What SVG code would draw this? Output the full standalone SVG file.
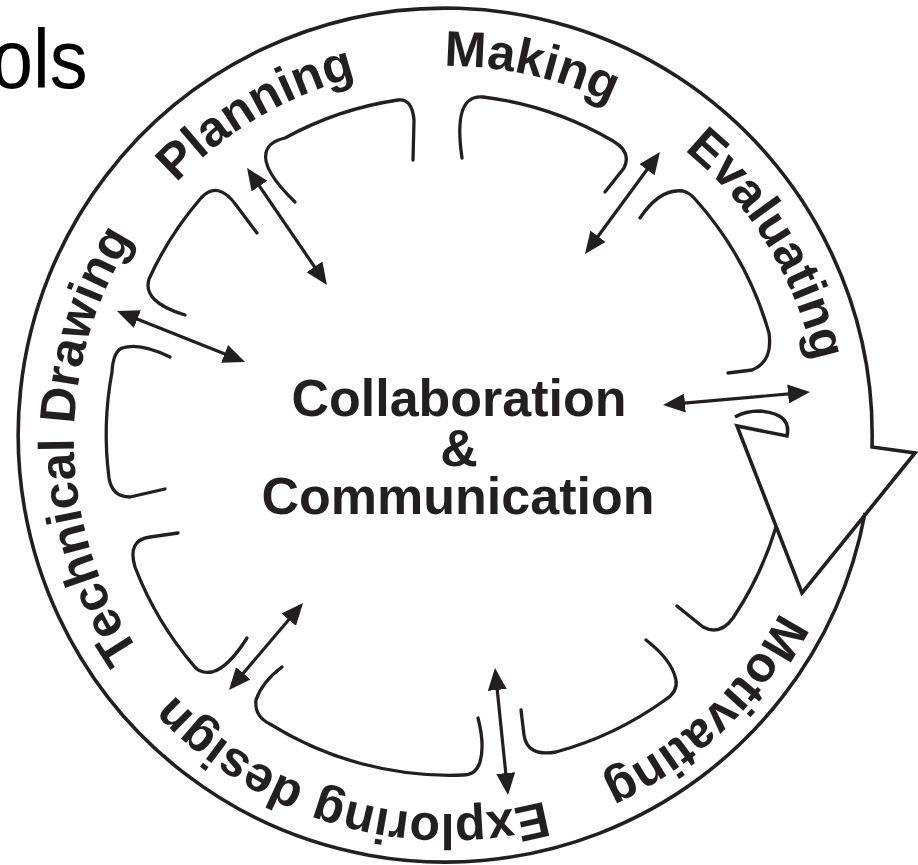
<svg xmlns="http://www.w3.org/2000/svg" xmlns:xlink="http://www.w3.org/1999/xlink" width="918" height="865" viewBox="0 0 918 865">
<style>
.ln{fill:none;stroke:#231f20;stroke-width:3.3;stroke-linecap:round;stroke-linejoin:round}
.ol{fill:#fff;stroke:#231f20;stroke-width:3.6;stroke-linejoin:miter}
.ar{fill:none;stroke:#231f20;stroke-width:3.2;marker-start:url(#ah);marker-end:url(#ah)}
.lbl{font-family:"Liberation Sans",Arial,sans-serif;font-weight:bold;font-size:50px;fill:#231f20}
.ctr{font-family:"Liberation Sans",Arial,sans-serif;font-weight:bold;font-size:52px;fill:#231f20;text-anchor:middle}
</style>
<defs>
<marker id="ah" markerWidth="22" markerHeight="19" refX="18" refY="9.5" orient="auto-start-reverse" markerUnits="userSpaceOnUse">
<path d="M0,0 L22,9.5 L0,19 z" fill="#231f20"/>
</marker>
<path id="ring" d="M822,440 A374,374 0 1 1 74,440 A374,374 0 1 1 822,440"/>
</defs>
<rect width="918" height="865" fill="#fff"/>
<text x="-10" y="88" transform="scale(0.9,1)" font-family="'Liberation Sans',Arial,sans-serif" font-size="84" fill="#000">ols</text>
<g id="cycle">
<path class="ol" d="M865,513 A427,427 0 1 1 872,447 L915,453 L802,593 L737,426 L787,436 C790,422 783,413 760,411 Q745,411 735,417"/>
</g>
<g id="planning">
<path class="ln" d="M185,315 Q142,302 149,279 A338,338 0 0 1 201,198 Q218,180 236,205 L257,233"/>
<text class="lbl"><textPath xlink:href="#ring" href="#ring" startOffset="1563.3" text-anchor="middle">Planning</textPath></text>
</g>
<g id="making">
<path class="ln" d="M295,202 Q262,170 266,153 Q268,142 285,138 A338,338 0 0 1 398,100 Q412,98 414,120 L413,160"/>
<text class="lbl"><textPath xlink:href="#ring" href="#ring" startOffset="1844" text-anchor="middle">Making</textPath></text>
</g>
<g id="evaluating">
<path class="ln" d="M462,158 Q455,110 470,100 Q475,96 483,97 A340,340 0 0 1 613,141 Q632,152 624,168 L605,192"/>
<path class="ln" d="M640,218 Q660,188 683,191 Q690,193 695,199 A340,340 0 0 1 769,333 Q773,362 752,370 L728,373"/>
<text class="lbl"><textPath xlink:href="#ring" href="#ring" startOffset="2143.6" text-anchor="middle">Evaluating</textPath></text>
</g>
<g id="motivating">
<path class="ln" d="M776,527 A340,340 0 0 1 733,618 Q720,636 703,627 L677,606"/>
<path class="ln" d="M646,640 Q672,660 676,680 Q678,692 665,700 A338,338 0 0 1 556,752 Q527,757 524,735 L521,710"/>
<text class="lbl"><textPath xlink:href="#ring" href="#ring" startOffset="303.5" text-anchor="middle">Motivating</textPath></text>
</g>
<g id="exploring">
<path class="ln" d="M478,718 Q485,745 480,762 Q476,775 463,775 A339,339 0 0 1 270,724 Q254,716 256,700 Q262,682 282,667"/>
<text class="lbl"><textPath xlink:href="#ring" href="#ring" startOffset="691.9" text-anchor="middle">Exploring design</textPath></text>
</g>
<g id="technical">
<path class="ln" d="M247,638 Q228,668 212,672 Q200,674 194,666 A339,339 0 0 1 135,567 Q127,540 150,537 L178,533"/>
<path class="ln" d="M170,357 Q140,342 122,348 Q113,352 112,372 A340,340 0 0 0 109,478 Q112,497 130,497 L165,489"/>
<text class="lbl"><textPath xlink:href="#ring" href="#ring" startOffset="1168.4" text-anchor="middle">Technical Drawing</textPath></text>
</g>
<g id="center">
<text class="ctr" x="459" y="416">Collaboration</text>
<text class="ctr" x="459" y="466">&amp;</text>
<text class="ctr" x="458" y="514">Communication</text>
</g>
<g id="connectors">
<line class="ar" x1="249.3" y1="171.3" x2="324.7" y2="281.7"/>
<line class="ar" x1="657.6" y1="155.2" x2="587.4" y2="250.8"/>
<line class="ar" x1="667" y1="404.6" x2="806" y2="392.4"/>
<line class="ar" x1="495.4" y1="672" x2="507.6" y2="791"/>
<line class="ar" x1="300.4" y1="606" x2="231.6" y2="687"/>
<line class="ar" x1="120.7" y1="312.5" x2="241.3" y2="360.5"/>
</g>
</svg>
